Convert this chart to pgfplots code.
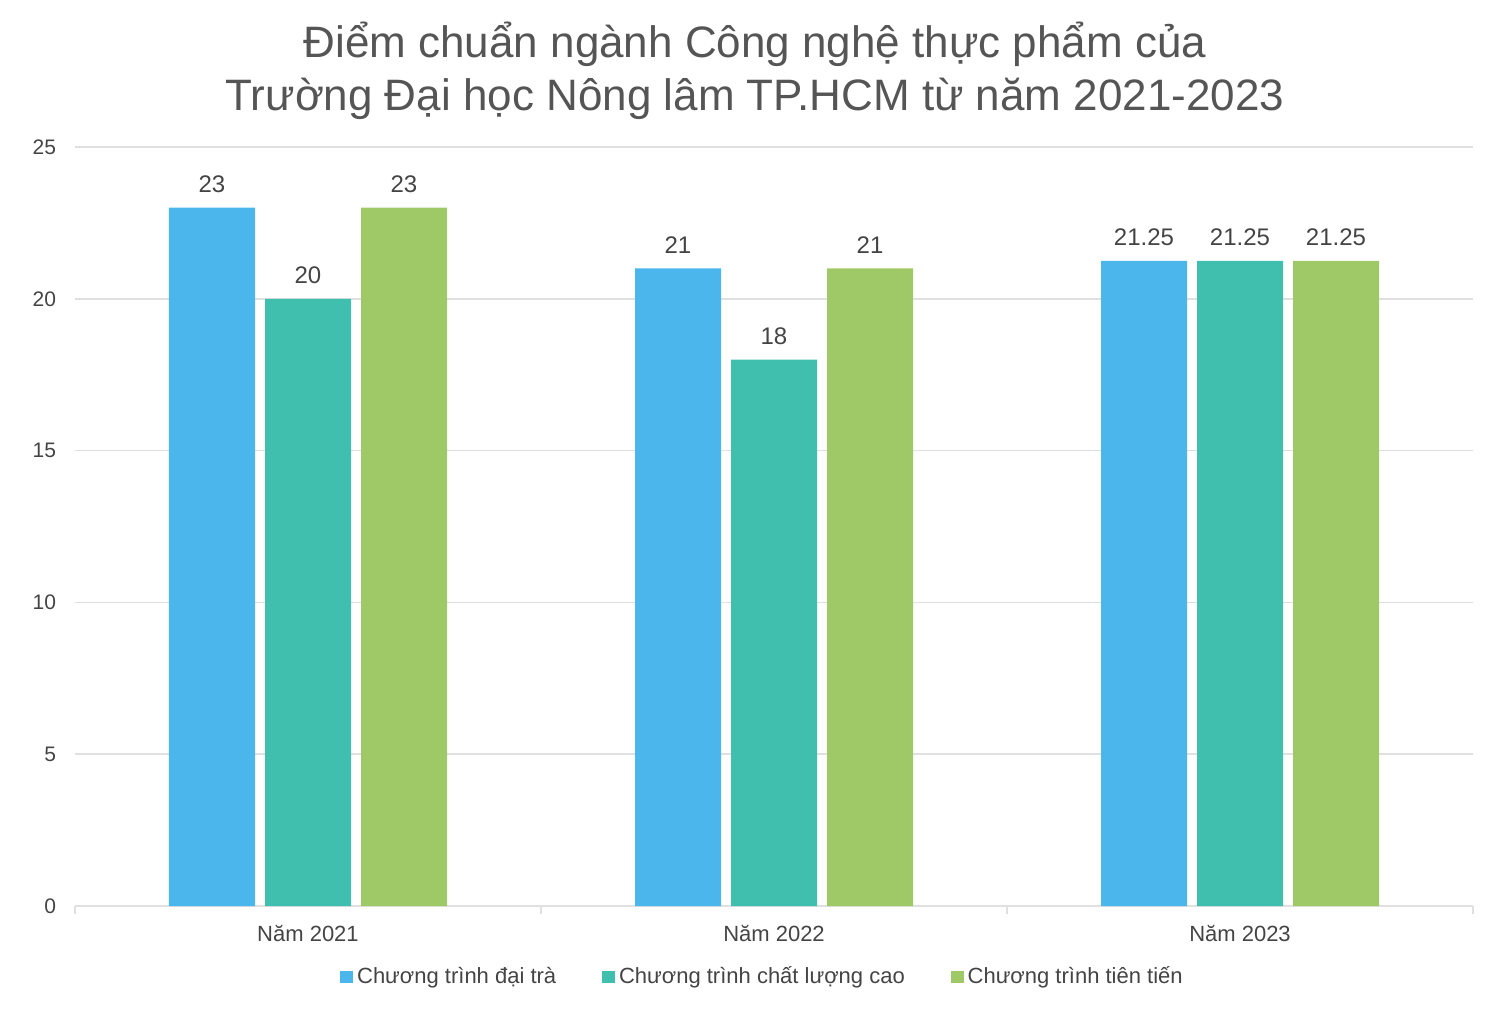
\documentclass[border=0pt]{standalone}
\usepackage{fontspec}
\setmainfont{Liberation Sans}
\usepackage{pgfplots}
\pgfplotsset{compat=1.18}
\definecolor{cblue}{HTML}{4AB6EC}
\definecolor{cteal}{HTML}{40BFAF}
\definecolor{cgreen}{HTML}{9FC966}
\definecolor{txt}{HTML}{444444}
\definecolor{ttl}{HTML}{555555}
\definecolor{gridc}{HTML}{E0E0E0}
\begin{document}
\begin{tikzpicture}
\useasboundingbox (0,0) rectangle (750pt,504pt);
\begin{axis}[
  at={(37.5pt,51pt)}, anchor=south west,
  scale only axis, width=699pt, height=379.5pt,
  ybar=5pt, bar width=43pt,
  xmin=-0.5, xmax=2.5, ymin=0, ymax=25,
  xtick={0,1,2}, xticklabels={Năm 2021,Năm 2022,Năm 2023},
  ytick={0,5,10,15,20,25},
  ymajorgrids, grid style={gridc, line width=0.8pt},
  axis line style={draw=none},
  major tick length=0pt,
  tick label style={font=\fontsize{10.5}{12}\selectfont, text=txt},
  xticklabel style={font=\fontsize{11}{13}\selectfont, yshift=-6pt},
  yticklabel style={xshift=-6pt},
  /pgf/number format/assume math mode=true,
  extra x ticks={-0.5,0.5,1.5,2.5}, extra x tick labels={},
  extra x tick style={grid=none, major tick length=4pt, tick style={gridc, line width=0.8pt}, tickpos=bottom, tick align=outside},
  nodes near coords,
  every node near coord/.append style={font=\fontsize{12}{14}\selectfont, text=txt, yshift=4pt},
  point meta=explicit symbolic,
  legend columns=3,
  legend style={draw=none, at={(0.4925,-0.0935)}, anchor=center, font=\fontsize{11}{13}\selectfont, text=txt, /tikz/every even column/.append style={column sep=21pt}},
  legend image code/.code={\fill[#1] (0pt,-3.2pt) rectangle (6.4pt,3.2pt);},
]
\draw[gridc, line width=0.8pt] (rel axis cs:0,0) -- (rel axis cs:1,0);
\addplot[fill=cblue, draw=none] coordinates {(0,23) [23] (1,21) [21] (2,21.25) [21.25]};
\addplot[fill=cteal, draw=none] coordinates {(0,20) [20] (1,18) [18] (2,21.25) [21.25]};
\addplot[fill=cgreen, draw=none] coordinates {(0,23) [23] (1,21) [21] (2,21.25) [21.25]};
\legend{Chương trình đại trà, Chương trình chất lượng cao, Chương trình tiên tiến}
\end{axis}
\node[align=center, text=ttl, font=\fontsize{22}{26.5}\selectfont] at (377.5pt,468.5pt) {Điểm chuẩn ngành Công nghệ thực phẩm của\\Trường Đại học Nông lâm TP.HCM từ năm 2021-2023};
\end{tikzpicture}
\end{document}
